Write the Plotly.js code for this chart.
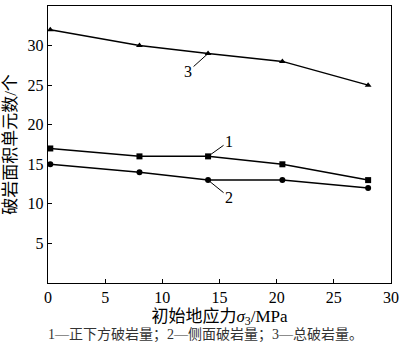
<!DOCTYPE html>
<html>
<head>
<meta charset="utf-8">
<script src="https://cdn.plot.ly/plotly-3.0.1.min.js"></script>
<style>html,body{margin:0;padding:0;background:#fff;}#chart{width:400px;height:353px;}</style>
</head>
<body>
<div id="chart"></div>
<script>
const stress = [0.2, 8, 14, 20.5, 28];
const series1 = [17, 16, 16, 15, 13];   // 正下方破岩量
const series2 = [15, 14, 13, 13, 12];   // 侧面破岩量
const series3 = [32, 30, 29, 28, 25];   // 总破岩量
const seriesNames = ['1', '2', '3'];
const xTicks = [0, 5, 10, 15, 20, 25, 30];
const yTicks = [5, 10, 15, 20, 25, 30, 35];

const FONT = '"Liberation Serif", "Times New Roman", "Noto Sans CJK SC", serif';
const line = {color: '#000', width: 1.5};

const traces = [
  {x: stress, y: series1, name: seriesNames[0], mode: 'lines+markers', line: line,
   marker: {symbol: 'square', size: 6, color: '#000'}},
  {x: stress, y: series2, name: seriesNames[1], mode: 'lines+markers', line: line,
   marker: {symbol: 'circle', size: 6, color: '#000'}},
  {x: stress, y: series3, name: seriesNames[2], mode: 'lines+markers', line: line,
   marker: {symbol: 'triangle-up', size: 6, color: '#000'}}
];

const labelFont = {family: FONT, size: 16, color: '#000'};
function lab(i, idx, ax, ay) {
  const ys = [series1, series2, series3][i];
  return {x: stress[idx], y: ys[idx], xref: 'x', yref: 'y', text: seriesNames[i],
    showarrow: true, arrowhead: 0, arrowwidth: 1, arrowcolor: '#000',
    ax: ax, ay: ay, font: labelFont};
}

const layout = {
  width: 400, height: 353,
  margin: {l: 48, r: 9, t: 6, b: 70},
  paper_bgcolor: '#fff', plot_bgcolor: '#fff',
  showlegend: false,
  font: {family: FONT, color: '#000'},
  xaxis: {
    range: [0, 30], tickvals: xTicks, ticktext: xTicks.map(String),
    showgrid: false, zeroline: false, showline: true, mirror: true,
    linecolor: '#000', linewidth: 1.2, ticks: 'inside', ticklen: 4, tickcolor: '#000',
    tickfont: {family: FONT, size: 16, color: '#000'},
    title: {text: '初始地应力<i>σ</i><sub>3</sub>/MPa', font: {family: FONT, size: 17, color: '#000'}, standoff: 4}
  },
  yaxis: {
    range: [0, 35], tickvals: yTicks, ticktext: yTicks.map(String),
    showgrid: false, zeroline: false, showline: true, mirror: true,
    linecolor: '#000', linewidth: 1.2, ticks: 'inside', ticklen: 4, tickcolor: '#000',
    tickfont: {family: FONT, size: 16, color: '#000'},
    title: {text: '破岩面积单元数/个', font: {family: FONT, size: 17, color: '#000'}, standoff: 6}
  },
  annotations: [
    lab(2, 2, -20, 18),
    lab(0, 2, 21, -15),
    lab(1, 2, 21, 17),
    {x: 0.46, y: 0, xref: 'paper', yref: 'paper', yanchor: 'middle', yshift: -52, showarrow: false,
     text: '1—正下方破岩量；2—侧面破岩量；3—总破岩量。',
     font: {family: FONT, size: 14, color: '#333'}}
  ]
};

Plotly.newPlot('chart', traces, layout, {displayModeBar: false, staticPlot: true});
</script>
</body>
</html>
